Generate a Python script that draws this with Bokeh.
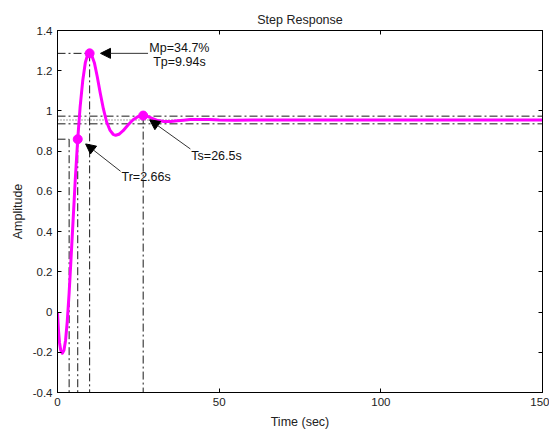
from bokeh.plotting import figure
from bokeh.models import (FixedTicker, LinearAxis, Arrow, NormalHead, Label,
                          CustomJSTickFormatter, Range1d)
from bokeh.embed import file_html
from bokeh.resources import INLINE

# Step response samples (time in seconds, amplitude)
time = [0, 0.3, 0.6, 1.0, 1.5, 2.0, 2.5, 3.0, 3.6, 4.2, 4.8, 5.5, 6.26,
        7.0, 7.8, 8.6, 9.3, 9.94, 10.6, 11.4, 12.3, 13.2, 14.2, 15.2, 16.2,
        17.2, 18.0, 19.0, 20.3, 21.8, 23.3, 24.8, 26.5, 28.0, 29.5, 31.0,
        33.0, 35.0, 37.0, 39.0, 41.0, 43.0, 45.0, 47.0, 50.0, 55.0, 60.0,
        80.0, 100.0, 150.0]
amp = [0, -0.09, -0.15, -0.19, -0.205, -0.19, -0.14, -0.05, 0.0955, 0.27,
       0.45, 0.66, 0.86, 1.02, 1.15, 1.24, 1.278, 1.286, 1.276, 1.24, 1.17,
       1.09, 1.01, 0.945, 0.905, 0.884, 0.879, 0.884, 0.902, 0.930, 0.955,
       0.971, 0.977, 0.972, 0.962, 0.952, 0.947, 0.948, 0.951, 0.954, 0.957,
       0.958, 0.958, 0.957, 0.955, 0.954, 0.955, 0.955, 0.955, 0.955]

x_ticks = [0, 50, 100, 150]
y_ticks = [-0.4, -0.2, 0, 0.2, 0.4, 0.6, 0.8, 1.0, 1.2, 1.4]

# Step characteristics
y_final = 0.955
mp_pct = 34.7
tp = 9.94
t10 = 3.6
tr = 2.66
ts = 26.5
ts_amp = 0.977
band = 0.02

t_end = 150
y_low = -0.4
y_peak = y_final * (1 + mp_pct / 100)
t90 = t10 + tr
y90 = 0.9 * y_final

FONT = "Liberation Sans"
MAGENTA = "#ff00ff"
REF = "#1a1a1a"
DASHDOT = "8 3 2 3"

p = figure(width=549, height=432, output_backend="svg", toolbar_location=None,
           x_range=Range1d(0, t_end), y_range=Range1d(y_low, 1.4),
           min_border_left=57, min_border_right=7, min_border_top=30,
           min_border_bottom=40, background_fill_color="white",
           border_fill_color="white")
p.title.text = "Step Response"
p.title.align = "center"
p.title.text_font = FONT
p.title.text_font_size = "12.5px"
p.title.text_font_style = "normal"
p.title.text_color = "#222222"
p.title.standoff = 8
p.xgrid.visible = False
p.ygrid.visible = False
p.outline_line_color = "black"

def style_axis(ax, ticks, show_labels):
    ax.ticker = FixedTicker(ticks=ticks)
    ax.major_tick_in = 4
    ax.major_tick_out = 0
    ax.minor_tick_line_color = None
    ax.axis_line_color = "black"
    ax.major_tick_line_color = "black"
    ax.major_label_text_font = FONT
    ax.axis_label_text_font = FONT
    ax.axis_label_text_font_size = "12.5px"
    ax.axis_label_text_font_style = "normal"
    ax.axis_label_text_color = "#222222"
    if show_labels:
        ax.major_label_text_font_size = "11.5px"
        ax.major_label_text_color = "#222222"
    else:
        # tick marks only on the top and right edges of the box
        ax.major_label_text_color = None
        ax.major_label_text_font_size = "0px"
        ax.major_label_standoff = 0

style_axis(p.xaxis[0], x_ticks, True)
style_axis(p.yaxis[0], y_ticks, True)
p.xaxis[0].axis_label = "Time (sec)"
p.yaxis[0].axis_label = "Amplitude"
p.xaxis[0].axis_label_standoff = 6
p.yaxis[0].formatter = CustomJSTickFormatter(
    code="return (Math.round(tick * 10) / 10).toString();")

top_ax = LinearAxis()
right_ax = LinearAxis()
style_axis(top_ax, x_ticks, False)
style_axis(right_ax, y_ticks, False)
p.add_layout(top_ax, "above")
p.add_layout(right_ax, "right")

# Settling band and final value
for lvl in (y_final * (1 + band), y_final * (1 - band)):
    p.line([0, t_end], [lvl, lvl], line_color=REF, line_width=1, line_dash=DASHDOT)
p.line([0, t_end], [y_final, y_final], line_color="#444444", line_width=1,
       line_dash="1 2")

# Peak guides
p.line([0, tp], [y_peak, y_peak], line_color=REF, line_width=1, line_dash=DASHDOT)
p.line([tp, tp], [y_peak, y_low], line_color=REF, line_width=1, line_dash=DASHDOT)

# Rise time guides
p.line([0, t10], [y90, y90], line_color=REF, line_width=1, line_dash=DASHDOT)
p.line([t10, t10], [y90, y_low], line_color=REF, line_width=1, line_dash=DASHDOT)
p.line([t90, t90], [y90, y_low], line_color=REF, line_width=1, line_dash=DASHDOT)

# Settling time guide
p.line([ts, ts], [ts_amp, y_low], line_color=REF, line_width=1, line_dash=DASHDOT)

# Response curve
p.line(time, amp, line_color=MAGENTA, line_width=3, line_join="round")

# Characteristic points
p.scatter([tp, t90, ts], [y_peak, y90, ts_amp], size=9, marker="circle",
          fill_color=MAGENTA, line_color=MAGENTA)

def arrow(xs, ys, xe, ye):
    p.add_layout(Arrow(end=NormalHead(size=10, fill_color="black",
                                      line_color="black"),
                       x_start=xs, y_start=ys, x_end=xe, y_end=ye,
                       line_color="#333333", line_width=1))

def label(x, y, text, align="left"):
    p.add_layout(Label(x=x, y=y, text=text, text_font=FONT,
                       text_font_size="12.5px", text_color="#111111",
                       text_align=align, text_baseline="middle"))

arrow(28.0, y_peak, 13.3, y_peak)
label(37.7, 1.315, f"Mp={mp_pct}%", "center")
label(37.7, 1.241, f"Tp={tp}s", "center")

arrow(19.5, 0.70, 8.7, 0.836)
label(19.8, 0.670, f"Tr={tr}s")

arrow(41.1, 0.811, 28.5, 0.956)
label(41.4, 0.778, f"Ts={ts}s")

open("out.html", "w").write(file_html(p, INLINE))
